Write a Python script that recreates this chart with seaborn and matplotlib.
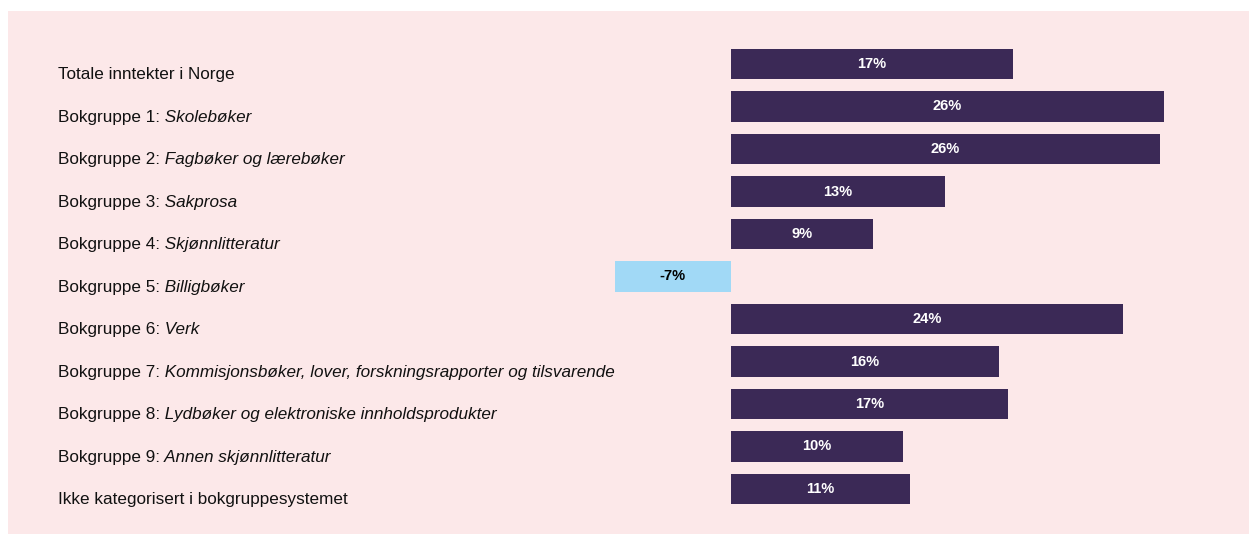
#!/usr/bin/env python3
import matplotlib

matplotlib.use("Agg")
import matplotlib.pyplot as plt
import matplotlib.transforms as mtransforms
import pandas as pd
import seaborn as sns
from matplotlib.patches import Rectangle

prefixes = [
    "Totale inntekter i Norge",
    "Bokgruppe 1:",
    "Bokgruppe 2:",
    "Bokgruppe 3:",
    "Bokgruppe 4:",
    "Bokgruppe 5:",
    "Bokgruppe 6:",
    "Bokgruppe 7:",
    "Bokgruppe 8:",
    "Bokgruppe 9:",
    "Ikke kategorisert i bokgruppesystemet",
]
italic_parts = [
    "",
    "Skolebøker",
    "Fagbøker og lærebøker",
    "Sakprosa",
    "Skjønnlitteratur",
    "Billigbøker",
    "Verk",
    "Kommisjonsbøker, lover, forskningsrapporter og tilsvarende",
    "Lydbøker og elektroniske innholdsprodukter",
    "Annen skjønnlitteratur",
    "",
]
change_pct = [17.07, 26.19, 25.95, 12.96, 8.61, -6.98, 23.72, 16.22, 16.77, 10.42, 10.85]

BG = "#fce8e9"
DARK = "#3b2956"
LIGHT = "#a1d9f6"

df = pd.DataFrame({
    "row": [str(i) for i in range(len(change_pct))],
    "value": change_pct,
})
df["sign"] = ["neg" if v < 0 else "pos" for v in df["value"]]

sns.set_style("white")
plt.rcParams["font.family"] = ["Liberation Sans", "DejaVu Sans"]

W, H = 1249, 534
fig = plt.figure(figsize=(W / 100, H / 100), dpi=100, facecolor="white")
fig.patches.append(Rectangle((8 / W, 0), 1, (H - 11) / H, transform=fig.transFigure,
                             facecolor=BG, edgecolor="none", zorder=-10))

zero_px, px_per_pct = 730.5, 16.55
ax_left, ax_right = 600, 1200
ax_top, ax_bottom = 42.75, 510.25
ax = fig.add_axes([ax_left / W, 1 - ax_bottom / H, (ax_right - ax_left) / W, (ax_bottom - ax_top) / H])
ax.set_facecolor("none")
ax.set_zorder(1)

sns.barplot(data=df, x="value", y="row", hue="sign", palette={"pos": DARK, "neg": LIGHT},
            orient="h", width=0.706, dodge=False, legend=False, saturation=1,
            linewidth=0, edgecolor="none", ax=ax)
ax.set_xlim((ax_left - zero_px) / px_per_pct, (ax_right - zero_px) / px_per_pct)
ax.set_ylim(len(change_pct) - 0.5, -0.5)
ax.axis("off")

for i, v in enumerate(change_pct):
    ax.text(v / 2, i, f"{v:.0f}%", ha="center", va="center", fontsize=10.5, fontweight="bold",
            color="black" if v < 0 else "white")

trans = mtransforms.blended_transform_factory(fig.transFigure, ax.transData)
for i, (pre, ita) in enumerate(zip(prefixes, italic_parts)):
    t = ax.text(58 / W, i + 0.36, pre, transform=trans, ha="left", va="baseline",
                fontsize=12.3, color="#111111", clip_on=False)
    if ita:
        ax.annotate(" " + ita, xy=(1, 0), xycoords=t, ha="left", va="bottom",
                    fontsize=12.3, fontstyle="italic", color="#111111", annotation_clip=False)

fig.savefig("out.png", dpi=100, facecolor="white")
plt.close(fig)
